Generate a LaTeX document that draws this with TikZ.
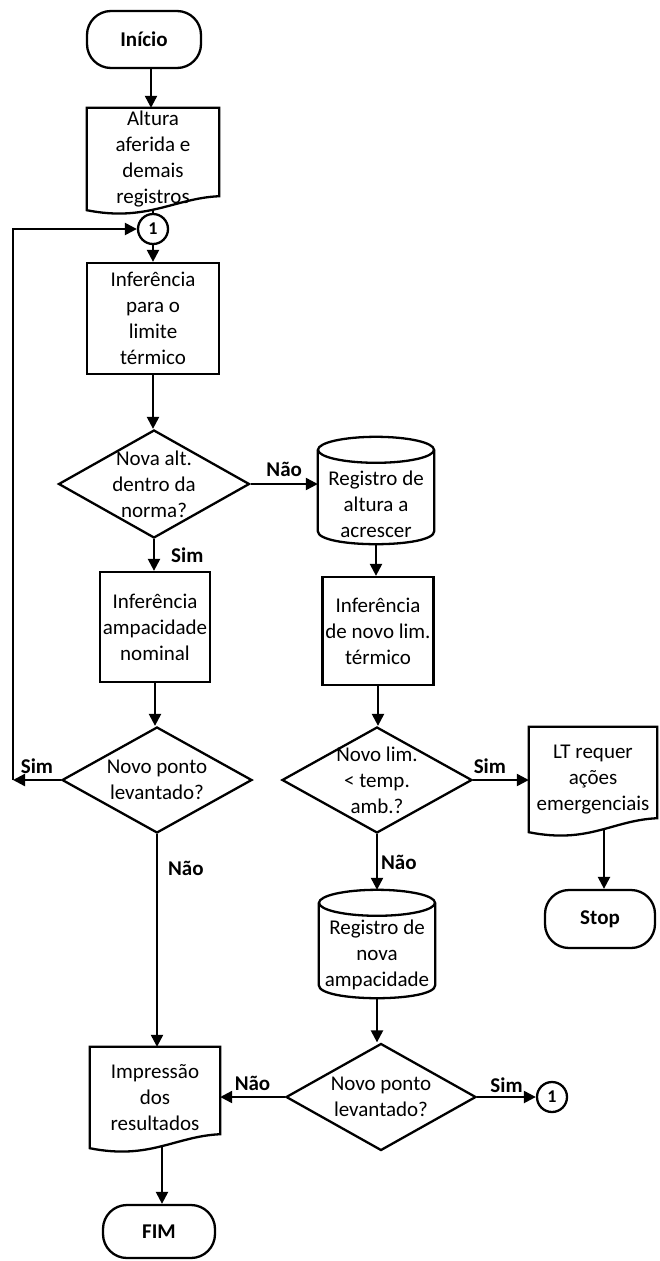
\documentclass[tikz,border=0pt]{standalone}
\usepackage{fontspec}
\setmainfont{Carlito}
\usetikzlibrary{arrows.meta,shapes.geometric,shapes.misc,calc}
\newcommand\fsz{\fontsize{21}{26}\selectfont}
\newcommand\docshape[1]{%
  \draw[line] (#1.north west) -- (#1.north east) -- ($(#1.south east)+(0,-14)$)
    .. controls ($(#1.south east)+(-45,-12)$) and ($(#1.south west)+(60,12)$) .. (#1.south west) -- cycle;}
\newcommand\cylshape[1]{%
  \draw[line] ($(#1.north west)+(0,13)$) -- ($(#1.south west)+(0,-13)$)
    .. controls ($(#1.south west)+(0,4.33)$) and ($(#1.south east)+(0,4.33)$) .. ($(#1.south east)+(0,-13)$)
    -- ($(#1.north east)+(0,13)$);
  \draw[line] ($(#1.north)+(0,13)$) ellipse [x radius=58, y radius=13];}
\begin{document}
\begin{tikzpicture}[x=1pt,y=-1pt,
  every node/.append style={font=\fsz},
  line/.style={line width=2.3pt},
  arr/.style={line width=2.3pt,-{Triangle[length=12pt,width=12pt]}},
  term/.style={draw,line width=2.3pt,rectangle,rounded corners=24pt,inner sep=0pt,font=\fsz\bfseries},
  proc/.style={draw,line width=2.3pt,rectangle,inner sep=0pt,align=center},
  dec/.style={draw,line width=2.3pt,diamond,inner sep=0pt},
  conn/.style={draw,line width=2.3pt,circle,minimum size=30pt,inner sep=0pt,font=\fontsize{18}{20}\selectfont\bfseries},
  docn/.style={rectangle,inner sep=0pt,align=center},
  cyln/.style={rectangle,inner sep=0pt},
  lbl/.style={font=\fsz\bfseries,inner sep=2pt},
]
\fill[white] (0,0) rectangle (660,1261);
\useasboundingbox (0,0) rectangle (660,1261);

% left column
\node[term,minimum width=114pt,minimum height=57pt] (start) at (144,39.5) {Início};
\coordinate (s1) at (151,68);
\node[docn,minimum width=132pt,minimum height=102pt] (alt) at (153,159) {Altura\\aferida e\\demais\\registros};
\docshape{alt}
\coordinate (altb) at (153,210);
\node[conn] (c1) at (153,229) {1};
\node[proc,minimum width=132pt,minimum height=111pt] (inf1) at (153,318.5) {Inferência\\para o\\limite\\térmico};
\node[dec,minimum width=191pt,minimum height=108pt,label={[align=center]center:Nova alt.\\dentro da\\norma?}] (d1) at (154,484) {};
\node[proc,minimum width=110pt,minimum height=110pt] (inf2) at (155,627) {Inferência\\ampacidade\\nominal};
\node[dec,minimum width=190pt,minimum height=106pt,label={[align=center]center:Novo ponto\\levantado?}] (d2) at (157,780) {};
\node[docn,minimum width=130pt,minimum height=101pt] (imp) at (155,1097.5) {Impressão\\dos\\resultados};
\docshape{imp}
\coordinate (impb) at (162,1146);
\node[term,minimum width=112pt,minimum height=53pt] (fim) at (159,1231.5) {FIM};

% middle column
\node[cyln,minimum width=116pt,minimum height=107pt,label={[align=center,yshift=-14pt]center:Registro de\\altura a\\acrescer}] (cyl1) at (376,490.5) {};
\cylshape{cyl1}
\node[proc,minimum width=111pt,minimum height=108pt] (inf3) at (378,631) {Inferência\\de novo lim.\\térmico};
\node[dec,minimum width=190pt,minimum height=106pt,label={[align=center]center:Novo lim.\\< temp.\\amb.?}] (d3) at (377,780) {};
\node[cyln,minimum width=116pt,minimum height=108pt,label={[align=center,yshift=-11pt]center:Registro de\\nova\\ampacidade}] (cyl2) at (377,944) {};
\cylshape{cyl2}
\node[dec,minimum width=190pt,minimum height=107pt,label={[align=center]center:Novo ponto\\levantado?}] (d4) at (381,1097) {};

% right column
\node[docn,minimum width=128pt,minimum height=105pt] (lt) at (593,779.5) {LT requer\\ações\\emergenciais};
\docshape{lt}
\coordinate (ltb) at (604,828);
\node[term,minimum width=110pt,minimum height=58pt] (stop) at (600,919) {Stop};
\node[conn] (c2) at (552,1097) {1};

% loop coordinates
\coordinate (loopB) at (13,780);
\coordinate (loopT) at (13,229);

% connectors
\draw[arr] (s1) -- (s1 |- alt.north);
\draw[line] (altb) -- (c1.north);
\draw[arr] (c1) -- (inf1);
\draw[arr] (inf1) -- (inf1.south |- d1.north);
\draw[arr] (d1.east) -- node[lbl,above=4pt] {Não} (d1.east -| cyl1.west);
\draw[arr] (d1.south) -- node[lbl,right=14pt] {Sim} (d1.south |- inf2.north);
\draw[arr] (inf2.south) -- (inf2.south |- d2.north);
\draw[arr] (d2.west) -- node[lbl,above=3pt] {Sim} (loopB);
\draw[arr] (loopB) -- (loopT) -- (c1.west);
\draw[arr] (d2.south) -- node[lbl,right=8pt,pos=0.16] {Não} (d2.south |- imp.north);
\draw[arr] (impb) -- (impb |- fim.north);
\draw[arr] (cyl1.south) -- (cyl1.south |- inf3.north);
\draw[arr] (inf3.south) -- (inf3.south |- d3.north);
\draw[arr] (d3.east) -- node[lbl,above=3pt,pos=0.3] {Sim} (lt.west |- d3.east);
\draw[arr] (ltb) -- (ltb |- stop.north);
\draw[arr] (d3.south) -- node[lbl,right=1pt] {Não} (d3.south |- cyl2.north);
\draw[arr] (cyl2.south) -- (cyl2.south |- d4.north);
\draw[arr] (d4.west) -- node[lbl,above=3pt] {Não} (imp.east |- d4.west);
\draw[arr] (d4.east) -- node[lbl,above=1pt] {Sim} (c2.west);
\end{tikzpicture}
\end{document}
